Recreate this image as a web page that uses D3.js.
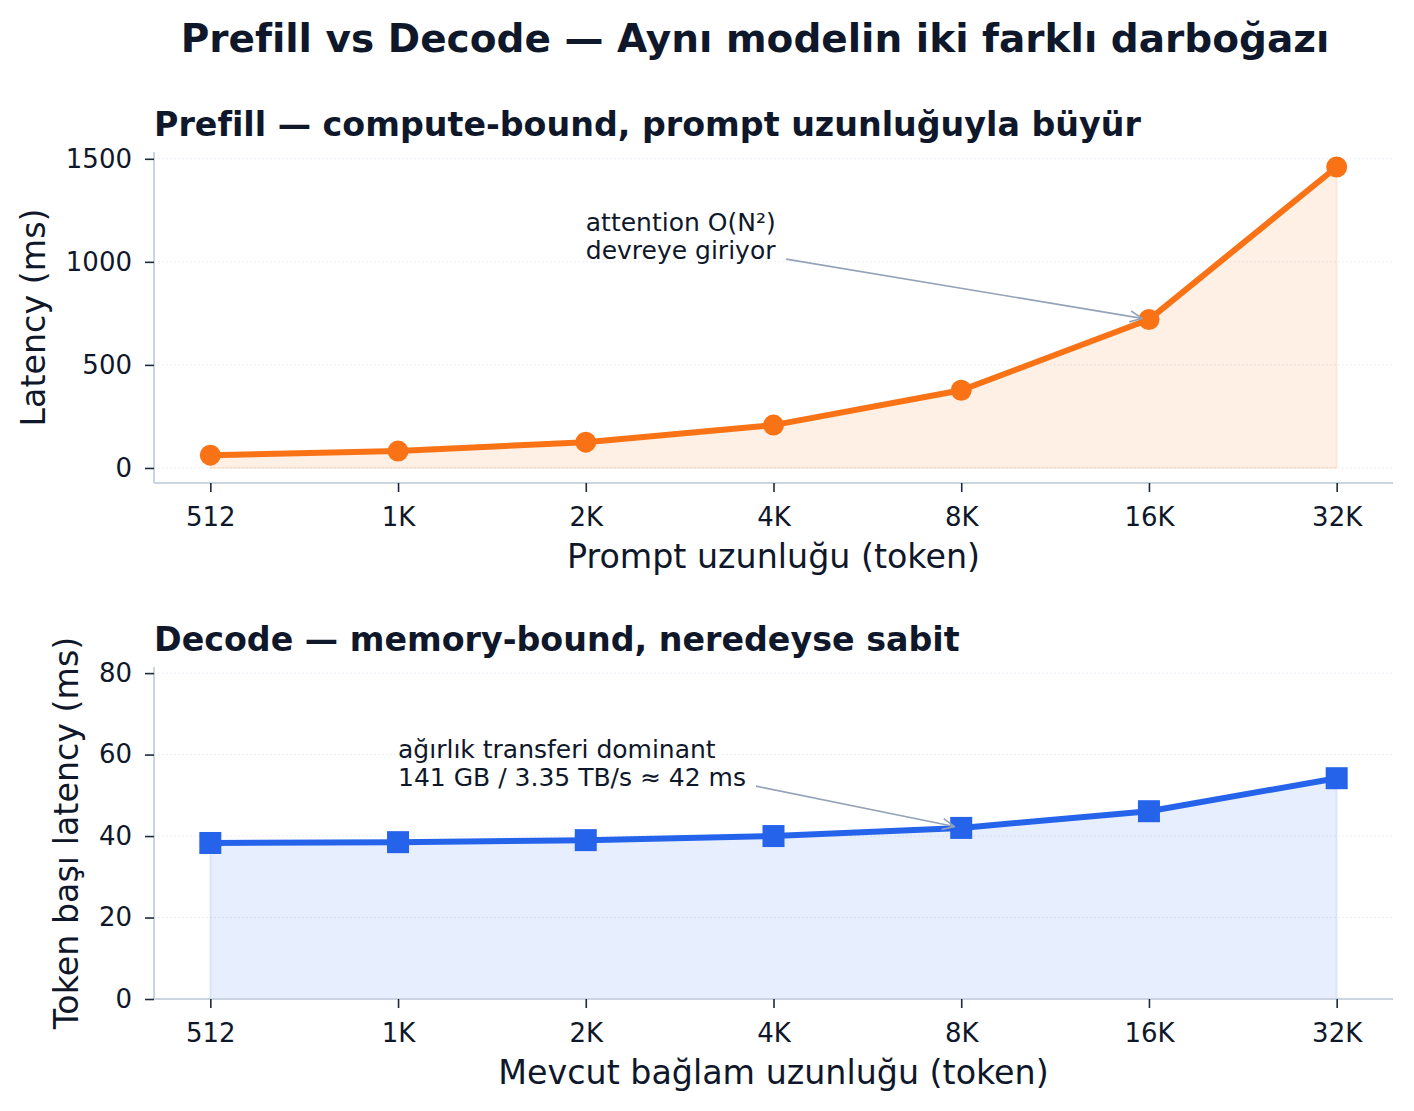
<!DOCTYPE html>
<html>
<head>
<meta charset="utf-8">
<script src="https://cdn.jsdelivr.net/npm/d3@7"></script>
<style>
  body { margin: 0; background: #fff; }
  svg text { font-family: "DejaVu Sans", sans-serif; fill: #0f172a; font-variant-ligatures: none; }
</style>
</head>
<body>
<svg id="chart" width="1414" height="1111"></svg>
<script>
// ---- data ----
const categories = ["512", "1K", "2K", "4K", "8K", "16K", "32K"];
const prefillLatency = [62, 82, 125, 208, 377, 720, 1460];
const decodeLatency = [38.3, 38.5, 39.0, 40.0, 42.0, 46.1, 54.2];
const prefillTicks = [0, 500, 1000, 1500];
const decodeTicks = [0, 20, 40, 60, 80];

const mainTitle = "Prefill vs Decode — Aynı modelin iki farklı darboğazı";
const prefillTitle = "Prefill — compute-bound, prompt uzunluğuyla büyür";
const decodeTitle = "Decode — memory-bound, neredeyse sabit";
const prefillXLabel = "Prompt uzunluğu (token)";
const decodeXLabel = "Mevcut bağlam uzunluğu (token)";
const prefillYLabel = "Latency (ms)";
const decodeYLabel = "Token başı latency (ms)";
const prefillNote = ["attention O(N²)", "devreye giriyor"];
const decodeNote = ["ağırlık transferi dominant", "141 GB / 3.35 TB/s ≈ 42 ms"];

const svg = d3.select("#chart");

svg.append("defs").append("marker")
  .attr("id", "arrowhead").attr("viewBox", "0 0 14 14")
  .attr("refX", 13).attr("refY", 7)
  .attr("markerWidth", 14).attr("markerHeight", 14)
  .attr("markerUnits", "userSpaceOnUse")
  .attr("orient", "auto")
  .append("path").attr("d", "M1,1.5 L13,7 L1,12.5")
  .attr("fill", "none").attr("stroke", "#94a3b8").attr("stroke-width", 1.6);

svg.append("text").attr("x", 755).attr("y", 52)
  .attr("text-anchor", "middle").attr("font-size", 39).attr("font-weight", "bold")
  .text(mainTitle);

function panel(opts) {
  const { top, bottom, left, right, values, yDomain, ticks, color, marker,
          title, xLabel, yLabel, yLabelX, note, noteIdx, noteY, targetIdx } = opts;
  const g = svg.append("g");
  const n = categories.length;
  const x = d3.scaleLinear().domain([-0.3, n - 1 + 0.3]).range([left, right]);
  const y = d3.scaleLinear().domain(yDomain).range([bottom, top]);

  // grid
  g.append("g").selectAll("line").data(ticks).join("line")
    .attr("x1", left).attr("x2", right)
    .attr("y1", d => y(d)).attr("y2", d => y(d))
    .attr("stroke", "#e2e8f0").attr("stroke-width", 1).attr("stroke-dasharray", "1.5,2.5");

  // fill
  const area = d3.area().x((d, i) => x(i)).y0(y(0)).y1(d => y(d));
  g.append("path").datum(values).attr("d", area)
    .attr("fill", color).attr("fill-opacity", 0.11)
    .attr("stroke", color).attr("stroke-opacity", 0.1).attr("stroke-width", 2);

  // line
  const line = d3.line().x((d, i) => x(i)).y(d => y(d));
  g.append("path").datum(values).attr("d", line)
    .attr("fill", "none").attr("stroke", color).attr("stroke-width", 6)
    .attr("stroke-linejoin", "round").attr("stroke-linecap", "round");

  if (marker === "circle") {
    g.append("g").selectAll("circle").data(values).join("circle")
      .attr("cx", (d, i) => x(i)).attr("cy", d => y(d)).attr("r", 10.5)
      .attr("fill", color);
  } else {
    g.append("g").selectAll("rect").data(values).join("rect")
      .attr("x", (d, i) => x(i) - 11).attr("y", d => y(d) - 11)
      .attr("width", 22).attr("height", 22).attr("fill", color);
  }

  // axes
  const yAxis = d3.axisLeft(y).tickValues(ticks).tickFormat(d3.format("d")).tickSize(9).tickPadding(13);
  const ya = g.append("g").attr("transform", `translate(${left},0)`).call(yAxis);
  const xAxis = d3.axisBottom(x).tickValues(d3.range(n)).tickFormat(i => categories[i]).tickSize(9).tickPadding(15.5);
  const xa = g.append("g").attr("transform", `translate(0,${bottom})`).call(xAxis);
  [ya, xa].forEach(a => {
    a.select(".domain").attr("stroke", "#cbd5e1").attr("stroke-width", 2);
    a.selectAll(".tick line").attr("stroke", "#1e293b").attr("stroke-width", 1.6);
    a.selectAll(".tick text").attr("font-size", 26).attr("fill", "#0f172a")
      .style("font-family", "DejaVu Sans");
  });
  ya.select(".domain").attr("d", `M0,${bottom}V${top}`);
  xa.select(".domain").attr("d", `M${left},0H${right}`);

  // titles
  g.append("text").attr("x", left).attr("y", top - 16)
    .attr("font-size", 33.3).attr("font-weight", "bold").text(title);
  g.append("text").attr("x", (left + right) / 2).attr("y", bottom + 85)
    .attr("text-anchor", "middle").attr("font-size", 33.3).text(xLabel);
  g.append("text")
    .attr("transform", `translate(${yLabelX},${(top + bottom) / 2}) rotate(-90)`)
    .attr("text-anchor", "middle").attr("font-size", 33.3).text(yLabel);

  // annotation
  const tx = x(noteIdx), ty = y(noteY);
  const t = g.append("text").attr("font-size", 25);
  note.forEach((s, k) => t.append("tspan").attr("x", tx).attr("y", ty + (k - 0.5) * 28 + 9).text(s));
  const bb = t.node().getBBox();
  const sx = bb.x + bb.width + 10, sy = bb.y + bb.height - 6;
  const ex = x(targetIdx), ey = y(values[targetIdx]);
  const ang = Math.atan2(ey - sy, ex - sx);
  g.append("line").attr("x1", sx).attr("y1", sy)
    .attr("x2", ex - Math.cos(ang) * 7).attr("y2", ey - Math.sin(ang) * 7)
    .attr("stroke", "#94a3b8").attr("stroke-width", 1.6)
    .attr("marker-end", "url(#arrowhead)");
}

panel({
  top: 152, bottom: 483, left: 154, right: 1393,
  values: prefillLatency, yDomain: [-73, 1533], ticks: prefillTicks,
  color: "#f97316", marker: "circle",
  title: prefillTitle, xLabel: prefillXLabel, yLabel: prefillYLabel, yLabelX: 45,
  note: prefillNote, noteIdx: 2, noteY: 1125, targetIdx: 5
});

panel({
  top: 667, bottom: 999, left: 154, right: 1393,
  values: decodeLatency, yDomain: [0, 81.5], ticks: decodeTicks,
  color: "#2563eb", marker: "square",
  title: decodeTitle, xLabel: decodeXLabel, yLabel: decodeYLabel, yLabelX: 78,
  note: decodeNote, noteIdx: 1, noteY: 57.9, targetIdx: 4
});
</script>
</body>
</html>
